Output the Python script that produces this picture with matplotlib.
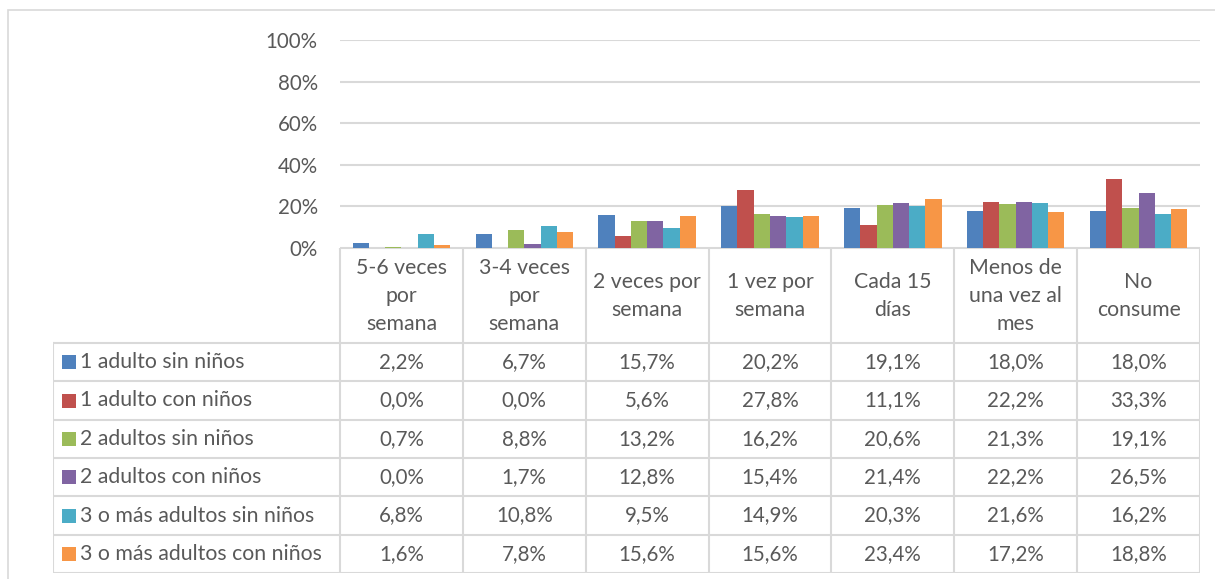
import matplotlib.pyplot as plt
import matplotlib.patches as mpatches
import numpy as np

plt.rcParams['font.family'] = ['Lato', 'DejaVu Sans']

categories = ["5-6 veces\npor\nsemana", "3-4 veces\npor\nsemana", "2 veces por\nsemana",
              "1 vez por\nsemana", "Cada 15\ndías", "Menos de\nuna vez al\nmes", "No\nconsume"]
series_names = ["1 adulto sin niños", "1 adulto con niños", "2 adultos sin niños",
                "2 adultos con niños", "3 o más adultos sin niños", "3 o más adultos con niños"]
adulto_sin = [2.2, 6.7, 15.7, 20.2, 19.1, 18.0, 18.0]
adulto_con = [0.0, 0.0, 5.6, 27.8, 11.1, 22.2, 33.3]
dos_sin = [0.7, 8.8, 13.2, 16.2, 20.6, 21.3, 19.1]
dos_con = [0.0, 1.7, 12.8, 15.4, 21.4, 22.2, 26.5]
tres_sin = [6.8, 10.8, 9.5, 14.9, 20.3, 21.6, 16.2]
tres_con = [1.6, 7.8, 15.6, 15.6, 23.4, 17.2, 18.8]
values = [adulto_sin, adulto_con, dos_sin, dos_con, tres_sin, tres_con]
colors = ["#4F81BD", "#C0504D", "#9BBB59", "#8064A2", "#4BACC6", "#F79646"]

W, H = 1215, 579
txt = "#595959"
line = "#D9D9D9"
fs = 15.3

fig = plt.figure(figsize=(W / 100, H / 100), dpi=100)

# outer chart border
fig.patches.append(mpatches.Rectangle((8 / W, -0.1), 1.2, (H - 10) / H + 0.1,
                                      transform=fig.transFigure, fill=False,
                                      edgecolor=line, linewidth=1.2))

# plot area
px0, px1, py0, py1 = 340, 1200, 40, 248
ax = fig.add_axes([px0 / W, (H - py1) / H, (px1 - px0) / W, (py1 - py0) / H])
n_cat = len(categories)
n_ser = len(values)
group = 0.794
bw = group / n_ser
x = np.arange(n_cat)
for i, (vals, c) in enumerate(zip(values, colors)):
    ax.bar(x + 0.5 - group / 2 + bw * (i + 0.5), np.array(vals) / 100, width=bw,
           color=c, linewidth=0)
ax.set_xlim(0, n_cat)
ax.set_ylim(0, 1)
ax.set_yticks(np.arange(0, 1.01, 0.2))
ax.set_yticklabels([f"{int(round(t * 100))}%" for t in np.arange(0, 1.01, 0.2)])
ax.tick_params(axis='y', length=0, pad=16, labelsize=fs - 0.5, labelcolor=txt)
ax.set_xticks([])
ax.grid(axis='y', color=line, linewidth=1.5)
ax.set_axisbelow(True)
for s in ax.spines.values():
    s.set_visible(False)
ax.patch.set_alpha(0)

# data table, sharing the category scale of the plot
tx0, ty0, ty1 = 53, 248, 573
tax = fig.add_axes([tx0 / W, (H - ty1) / H, (px1 - tx0) / W, (ty1 - ty0) / H])
unit = (px1 - px0) / n_cat
tax.set_xlim(-(px0 - tx0) / unit, n_cat)
head_h = 95
row_h = (ty1 - ty0 - head_h) / n_ser
tax.set_ylim(ty1 - ty0, 0)
tax.axis('off')
lk = dict(color=line, linewidth=1.5, solid_capstyle='projecting')
xl = -(px0 - tx0) / unit
# horizontal lines
tax.plot([0, n_cat], [0, 0], **lk)
for r in range(n_ser + 1):
    yy = head_h + r * row_h
    tax.plot([xl, n_cat], [yy, yy], **lk)
# vertical lines
for cidx in range(n_cat + 1):
    tax.plot([cidx, cidx], [0, ty1 - ty0], **lk)
tax.plot([xl, xl], [head_h, ty1 - ty0], **lk)

for cidx, cat in enumerate(categories):
    tax.text(cidx + 0.5, head_h / 2, cat, ha='center', va='center', fontsize=fs,
             color=txt, linespacing=1.5)

key = 14 / unit
for r, (name, vals, c) in enumerate(zip(series_names, values, colors)):
    yc = head_h + (r + 0.5) * row_h
    tax.add_patch(mpatches.Rectangle((xl + 9 / unit, yc - 7), key, 14, color=c,
                                     linewidth=0))
    tax.text(xl + 27 / unit, yc, name, ha='left', va='center', fontsize=fs, color=txt)
    for cidx, v in enumerate(vals):
        tax.text(cidx + 0.5, yc, f"{v:.1f}%".replace('.', ','), ha='center',
                 va='center', fontsize=fs - 0.5, color=txt)

fig.savefig("out.png", dpi=100)
